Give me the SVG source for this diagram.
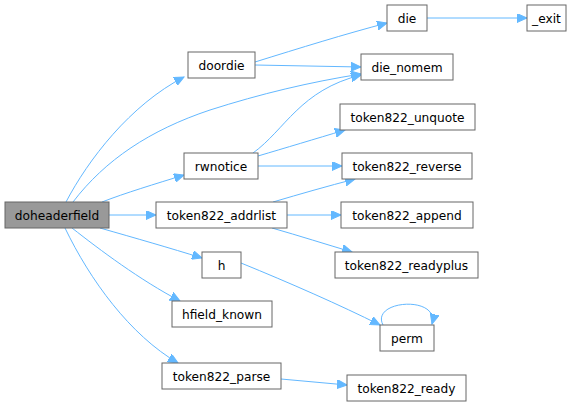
<svg xmlns="http://www.w3.org/2000/svg" width="582" height="406" viewBox="0 0 582 406">
<style>
.n rect{fill:#ffffff;stroke:#666666;stroke-width:1}
.n text{font-family:"DejaVu Sans",sans-serif;font-size:12.2px;fill:#000000;text-anchor:middle}
.e path{fill:none;stroke:#63b8ff;stroke-width:1;marker-end:url(#a)}
</style>
<defs>
<marker id="a" markerUnits="userSpaceOnUse" markerWidth="11" markerHeight="9" refX="10" refY="4.5" orient="auto">
<path d="M0,0 L10,4.5 L0,9 Z" fill="#63b8ff" stroke="#63b8ff"/>
</marker>
</defs>
<rect width="582" height="406" fill="#ffffff"/>
<g id="edges" class="e">
<path d="M66,202 C88,160 130,105 184,77"/>
<path d="M73,202 C105,160 150,130 210,110 C260,94 310,82 361,74"/>
<path d="M102,202 C125,193 155,184 184,175"/>
<path d="M109,215 L156,215"/>
<path d="M100,228 C135,238 170,248 202,258"/>
<path d="M72,228 C100,250 140,280 180,301"/>
<path d="M65,228 C90,280 130,335 178,363"/>
<path d="M255,62 C300,48 345,34 387,23"/>
<path d="M255,65 L361,67"/>
<path d="M253,153 C285,130 300,90 361,75"/>
<path d="M258,156 C285,148 315,139 345,130"/>
<path d="M258,166 L342,166"/>
<path d="M273,202 C300,194 328,186 355,179"/>
<path d="M287,215 L341,215"/>
<path d="M272,228 C300,236 325,244 352,252"/>
<path d="M241,263 C290,283 340,305 380,325"/>
<path d="M383,325 C370,300 440,295 432,324"/>
<path d="M281,379 C303,381 325,383 347,385"/>
<path d="M427,18 L527,18"/>
</g>
<g id="doheaderfield" class="n"><rect x="5" y="202" width="104" height="26" style="fill:#999999"/><text x="57" y="219.5">doheaderfield</text></g>
<g id="doordie" class="n"><rect x="188" y="52" width="67" height="26"/><text x="221.5" y="69.5">doordie</text></g>
<g id="die" class="n"><rect x="387" y="5" width="40" height="26"/><text x="407" y="22.5">die</text></g>
<g id="_exit" class="n"><rect x="527" y="5" width="39" height="26"/><text x="546.5" y="22.5">_exit</text></g>
<g id="die_nomem" class="n"><rect x="361" y="54" width="92" height="26"/><text x="407" y="71.5">die_nomem</text></g>
<g id="rwnotice" class="n"><rect x="184" y="153" width="74" height="26"/><text x="221" y="170.5">rwnotice</text></g>
<g id="token822_unquote" class="n"><rect x="340" y="104" width="135" height="26"/><text x="407.5" y="121.5">token822_unquote</text></g>
<g id="token822_reverse" class="n"><rect x="342" y="153" width="130" height="26"/><text x="407" y="170.5">token822_reverse</text></g>
<g id="token822_addrlist" class="n"><rect x="156" y="202" width="131" height="26"/><text x="221.5" y="219.5">token822_addrlist</text></g>
<g id="token822_append" class="n"><rect x="341" y="202" width="132" height="26"/><text x="407" y="219.5">token822_append</text></g>
<g id="token822_readyplus" class="n"><rect x="335" y="252" width="143" height="26"/><text x="406.5" y="269.5">token822_readyplus</text></g>
<g id="h" class="n"><rect x="202" y="252" width="39" height="26"/><text x="221.5" y="269.5">h</text></g>
<g id="hfield_known" class="n"><rect x="172" y="301" width="100" height="26"/><text x="222" y="318.5">hfield_known</text></g>
<g id="perm" class="n"><rect x="380" y="325" width="54" height="26"/><text x="407" y="342.5">perm</text></g>
<g id="token822_parse" class="n"><rect x="162" y="363" width="119" height="26"/><text x="221.5" y="380.5">token822_parse</text></g>
<g id="token822_ready" class="n"><rect x="347" y="375" width="119" height="26"/><text x="406.5" y="392.5">token822_ready</text></g>
</svg>
